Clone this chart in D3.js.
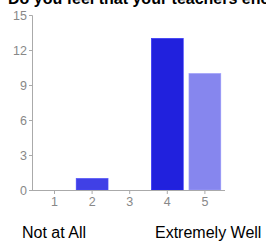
<!DOCTYPE html>
<html><head><meta charset="utf-8">
<script src="https://cdn.jsdelivr.net/npm/d3@7"></script>
<style>body{margin:0;background:#fff}svg{display:block}</style>
</head><body>
<script>
const categories = ["1","2","3","4","5"];
const values = [0, 1, 0, 13, 10];
const barColors = ["#4040e6","#4040e6","#4040e6","#2121dd","#8686ee"];
const yTicks = [0,3,6,9,12,15];
const title = "Do you feel that your teachers encourage you?";
const lowLabel = "Not at All";
const highLabel = "Extremely Well";

const W = 266, H = 246;
const svg = d3.select("body").append("svg").attr("width", W).attr("height", H);

const x = d3.scaleBand().domain(categories).range([35.7, 223.7]).paddingInner(0.15).paddingOuter(0.075);
const y = d3.scaleLinear().domain([0, 15]).range([190, 15]);

svg.append("text").attr("x", 8).attr("y", 4)
  .attr("font-family", "Liberation Sans, Arial, sans-serif")
  .attr("font-weight", "bold").attr("font-size", 16).attr("fill", "#000")
  .text(title);

// bars
svg.selectAll("rect.bar").data(values).join("rect")
  .attr("class","bar")
  .attr("x", (d,i) => x(categories[i]))
  .attr("width", x.bandwidth())
  .attr("y", d => y(d))
  .attr("height", d => y(0) - y(d))
  .attr("fill", (d,i) => barColors[i])
  .attr("stroke", (d,i)=> d3.color(barColors[i]).brighter(0.6))
  .attr("stroke-width", 0.5);

// y axis
const yAxis = svg.append("g").attr("transform", "translate(32,0)")
  .call(d3.axisLeft(y).tickValues(yTicks).tickSize(3).tickPadding(2));
yAxis.select(".domain").attr("stroke", "#aaa");
yAxis.selectAll(".tick line").attr("stroke", "#aaa");
yAxis.selectAll(".tick text").attr("fill", "#888")
  .attr("font-family", "Liberation Sans, Arial, sans-serif").attr("font-size", 12.5);

// x axis
const xAxis = svg.append("g").attr("transform", "translate(0,190)")
  .call(d3.axisBottom(x).tickSize(4).tickSizeOuter(0).tickPadding(3));
xAxis.select(".domain").attr("stroke", "#aaa").attr("d", "M32,0.5H225");
xAxis.selectAll(".tick line").attr("stroke", "#aaa");
xAxis.selectAll(".tick text").attr("fill", "#888")
  .attr("font-family", "Liberation Sans, Arial, sans-serif").attr("font-size", 12.5);

svg.append("text").attr("x", 22).attr("y", 238)
  .attr("font-family", "Liberation Sans, Arial, sans-serif").attr("font-size", 16)
  .attr("fill", "#000").text(lowLabel);
svg.append("text").attr("x", 155).attr("y", 238)
  .attr("font-family", "Liberation Sans, Arial, sans-serif").attr("font-size", 16)
  .attr("fill", "#000").text(highLabel);
</script>
</body></html>
